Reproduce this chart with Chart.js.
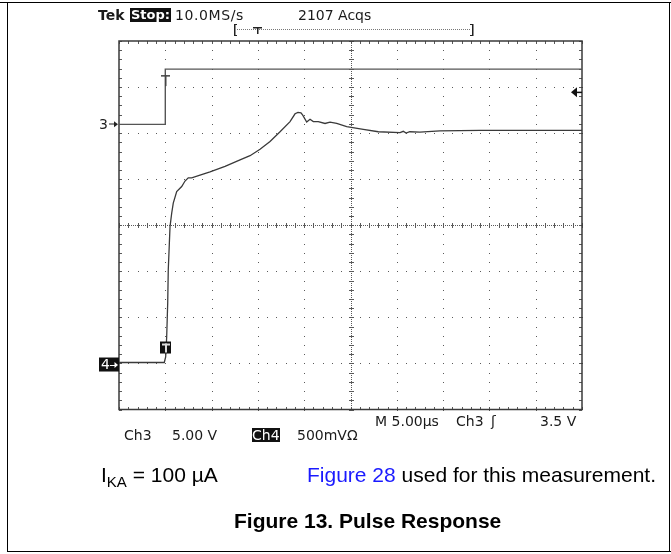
<!DOCTYPE html>
<html><head><meta charset="utf-8">
<script src="https://cdn.jsdelivr.net/npm/chart.js@4.4.1/dist/chart.umd.min.js"></script>
<style>
html,body{margin:0;padding:0;background:#fff;}
#wrap{position:relative;width:671px;height:554px;overflow:hidden;background:#fff;}
#c{position:absolute;left:0;top:0;}
.t{position:absolute;white-space:nowrap;font-family:"DejaVu Sans",sans-serif;font-size:14px;line-height:14px;color:#1a1a1a;}
.inv{background:#111;color:#fff;}
.cap{position:absolute;white-space:nowrap;font-family:"Liberation Sans",Arial,sans-serif;font-size:21px;line-height:21px;color:#000;}
.ln{position:absolute;background:#000;}
</style></head>
<body><div id="wrap">
<canvas id="c" width="671" height="554"></canvas>
<div class="ln" style="left:0;top:2px;width:671px;height:1px"></div>
<div class="ln" style="left:7px;top:2px;width:1px;height:550px"></div>
<div class="ln" style="left:7px;top:551px;width:664px;height:1px"></div>
<div class="ln" style="left:669px;top:2px;width:1px;height:550px"></div>

<div class="t" style="left:98px;top:8px;font-weight:bold">Tek</div>
<div class="t inv" style="left:130px;top:8px;font-weight:bold;font-size:13px;padding:0 1px">Stop:</div>
<div class="t" style="left:175px;top:8px;letter-spacing:0.6px">10.0MS/s</div>
<div class="t" style="left:298px;top:8px">2107 Acqs</div>

<div class="t" style="left:124px;top:428px">Ch3</div>
<div class="t" style="left:172px;top:428px">5.00 V</div>
<div class="t inv" style="left:252px;top:428px">Ch4</div>
<div class="t" style="left:297px;top:428px">500mVΩ</div>
<div class="t" style="left:375px;top:414px">M 5.00µs</div>
<div class="t" style="left:456px;top:414px">Ch3</div>
<div class="t" style="left:491px;top:414px">ʃ</div>
<div class="t" style="left:540px;top:414px">3.5 V</div>

<div class="cap" style="left:101px;top:464px">I<span style="font-size:15px;position:relative;top:5px">KA</span> = 100 µA</div>
<div class="cap" style="left:307px;top:464px"><span style="color:#1a1aff">Figure 28</span> used for this measurement.</div>
<div class="cap" style="left:234px;top:510px;font-weight:bold">Figure 13. Pulse Response</div>
</div>
<script>
// ---- data (time in µs, voltages in V) ----
const ch3Time = [0, 5.0, 5.0, 50];
const ch3Volt = [0, 0, 6.0, 6.0];

const ch4Time = [0, 4.89, 5.04, 5.15, 5.26, 5.32, 5.43, 5.51, 5.69, 5.86, 6.23, 6.77, 7.13, 7.48, 7.85,
  8.75, 9.83, 11.45, 13.07, 14.15, 15.23, 16.31, 17.39, 18.47, 19.01, 19.33, 19.65, 19.84, 20.27, 20.63,
  20.98, 21.52, 22.25, 22.79, 23.51, 24.59, 26.38, 28.0, 30.35, 30.7, 31.0, 31.4, 32.5, 34.66, 38.98, 43.3, 50];
const ch4Volt = [0, 0, 0.06, 0.28, 0.645, 1.005, 1.275, 1.475, 1.62, 1.73, 1.855, 1.91, 1.97, 2.005, 2.005,
  2.035, 2.07, 2.13, 2.20, 2.245, 2.315, 2.40, 2.505, 2.615, 2.70, 2.715, 2.71, 2.685, 2.61, 2.64,
  2.615, 2.615, 2.595, 2.61, 2.595, 2.56, 2.53, 2.505, 2.495, 2.51, 2.49, 2.505, 2.50, 2.515, 2.52, 2.52, 2.52];

// ---- scope settings ----
const timePerDiv = 5;      // µs/div
const ch3VoltsPerDiv = 5;  // V/div
const ch4VoltsPerDiv = 0.5;// V/div
const ch3GroundDiv = 6.19; // divisions above bottom
const ch4GroundDiv = 1.02;
const triggerTime = 5.0;   // µs
const triggerLevel = 3.5;  // V on Ch3
const hDivs = 10, vDivs = 8;

const toPts = (xs, ys) => xs.map((x, i) => ({x: x, y: ys[i]}));

const scopePlugin = {
  id: 'scope',
  beforeDatasetsDraw(chart) {
    const ctx = chart.ctx, ca = chart.chartArea;
    const xs = chart.scales.x, ys = chart.scales.y4;
    const y4min = ys.min;
    const xm = [], ym = [];
    for (let i = 0; i <= hDivs * 5; i++) xm.push(Math.round(xs.getPixelForValue(i * timePerDiv / 5)));
    for (let k = 0; k <= vDivs * 5; k++) ym.push(Math.round(ys.getPixelForValue(y4min + k * ch4VoltsPerDiv / 5)));
    ctx.save();
    ctx.fillStyle = '#5a5a5a';
    // dotted grid
    for (let i = 1; i < hDivs; i++) {
      if (i === hDivs / 2) continue;
      const x = xm[i * 5];
      for (const y of ym) ctx.fillRect(x, y, 1, 1);
    }
    for (let j = 1; j < vDivs; j++) {
      if (j === vDivs / 2) continue;
      const y = ym[j * 5];
      for (const x of xm) ctx.fillRect(x, y, 1, 1);
    }
    // center lines
    const cx = xm[hDivs / 2 * 5], cy = ym[vDivs / 2 * 5];
    for (let y = ca.top; y < ca.bottom; y += 2) ctx.fillRect(cx, Math.round(y), 1, 1);
    for (let x = ca.left; x < ca.right; x += 2) ctx.fillRect(Math.round(x), cy, 1, 1);
    for (const y of ym) ctx.fillRect(cx - 2, y, 5, 1);
    for (const x of xm) ctx.fillRect(x, cy - 2, 1, 5);
    // border ticks
    for (const x of xm) { ctx.fillRect(x, Math.round(ca.top), 1, 3); ctx.fillRect(x, Math.round(ca.bottom) - 3, 1, 3); }
    for (const y of ym) { ctx.fillRect(Math.round(ca.left), y, 3, 1); ctx.fillRect(Math.round(ca.right) - 3, y, 3, 1); }
    // frame
    ctx.strokeStyle = '#3a3a3a';
    ctx.lineWidth = 1.5;
    ctx.strokeRect(ca.left, ca.top, ca.right - ca.left, ca.bottom - ca.top);
    ctx.restore();
  },
  afterDraw(chart) {
    const ctx = chart.ctx, ca = chart.chartArea;
    const xs = chart.scales.x, y3 = chart.scales.y3, y4 = chart.scales.y4;
    const tx = xs.getPixelForValue(triggerTime);
    const g3 = y3.getPixelForValue(0), g4 = y4.getPixelForValue(0);
    ctx.save();
    // Ch3 ground marker "3→"
    ctx.fillStyle = '#222';
    ctx.font = '14px "DejaVu Sans"';
    ctx.textBaseline = 'middle';
    ctx.fillText('3', 99, g3 + 1);
    ctx.fillRect(109, Math.round(g3) - 0.5, 6, 1);
    ctx.beginPath(); ctx.moveTo(118, g3); ctx.lineTo(114, g3 - 3); ctx.lineTo(114, g3 + 3); ctx.closePath(); ctx.fill();
    // Ch4 ground marker box
    ctx.fillStyle = '#111';
    ctx.fillRect(99, g4 - 5, 20, 14);
    ctx.fillStyle = '#fff';
    ctx.fillText('4', 101, g4 + 2.5);
    ctx.fillRect(110, Math.round(g4) + 2, 5, 1);
    ctx.beginPath(); ctx.moveTo(118, g4 + 2.5); ctx.lineTo(114.5, g4 - 0.5); ctx.lineTo(114.5, g4 + 5.5); ctx.closePath(); ctx.fill();
    // trigger position box "T" on Ch4
    ctx.fillStyle = '#111';
    ctx.fillRect(Math.round(tx) - 5, g4 - 21, 11, 12);
    ctx.fillStyle = '#ddd';
    ctx.fillRect(Math.round(tx) - 3, g4 - 19, 8, 2);
    ctx.fillRect(Math.round(tx), g4 - 19, 2, 9);
    // trigger T on Ch3
    const h3 = y3.getPixelForValue(ch3Volt[2]);
    ctx.fillStyle = '#444';
    ctx.fillRect(Math.round(tx) - 4, h3 + 6, 9, 1.5);
    ctx.fillRect(Math.round(tx), h3 + 6, 1.5, 11);
    // trigger level arrow at right
    const tl = y3.getPixelForValue(triggerLevel);
    ctx.fillStyle = '#111';
    ctx.beginPath(); ctx.moveTo(ca.right - 11, tl); ctx.lineTo(ca.right - 5, tl - 5); ctx.lineTo(ca.right - 5, tl + 5); ctx.closePath(); ctx.fill();
    ctx.fillRect(ca.right - 6, tl - 0.5, 6, 1.5);
    // record bracket [ ....T.... ]
    ctx.fillStyle = '#222';
    ctx.fillRect(234, 24, 1.5, 12); ctx.fillRect(234, 24, 3, 1); ctx.fillRect(234, 35, 3, 1);
    ctx.fillRect(472, 24, 1.5, 12); ctx.fillRect(470, 24, 3, 1); ctx.fillRect(470, 35, 3, 1);
    ctx.fillStyle = '#777';
    for (let x = 237; x < 471; x += 2) ctx.fillRect(x, 29, 1, 1);
    ctx.fillStyle = '#222';
    ctx.fillRect(253, 27, 9, 1.5); ctx.fillRect(257, 27, 1.5, 7);
    ctx.restore();
  }
};

new Chart(document.getElementById('c'), {
  type: 'scatter',
  data: {
    datasets: [
      {label: 'Ch3', data: toPts(ch3Time, ch3Volt), yAxisID: 'y3', showLine: true, pointRadius: 0,
       borderColor: '#555', borderWidth: 1.4, tension: 0},
      {label: 'Ch4', data: toPts(ch4Time, ch4Volt), yAxisID: 'y4', showLine: true, pointRadius: 0,
       borderColor: '#3a3a3a', borderWidth: 1.3, tension: 0}
    ]
  },
  options: {
    responsive: false,
    animation: false,
    devicePixelRatio: 1,
    layout: {padding: {left: 119, top: 41, right: 89, bottom: 144.5}},
    plugins: {legend: {display: false}, tooltip: {enabled: false}},
    scales: {
      x: {type: 'linear', display: false, min: 0, max: hDivs * timePerDiv},
      y3: {type: 'linear', display: false, min: -ch3GroundDiv * ch3VoltsPerDiv, max: (vDivs - ch3GroundDiv) * ch3VoltsPerDiv},
      y4: {type: 'linear', display: false, min: -ch4GroundDiv * ch4VoltsPerDiv, max: (vDivs - ch4GroundDiv) * ch4VoltsPerDiv}
    }
  },
  plugins: [scopePlugin]
});
</script>
</body></html>
